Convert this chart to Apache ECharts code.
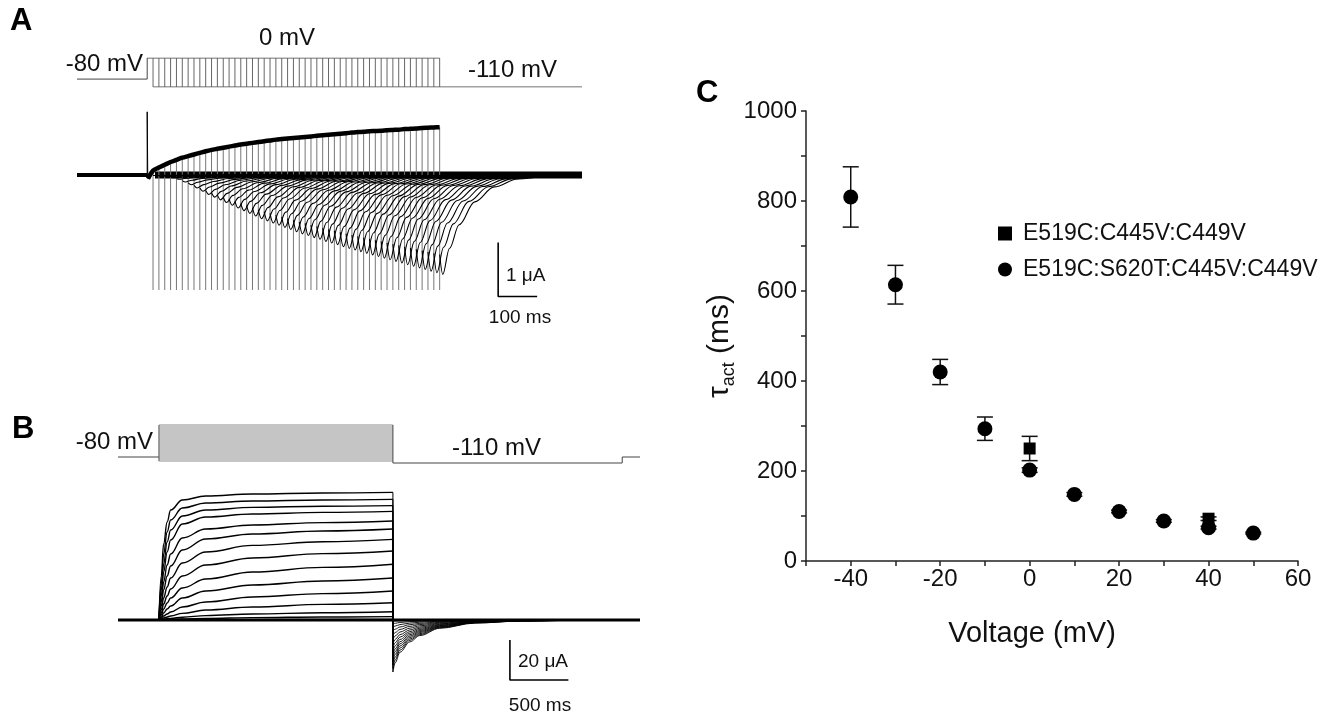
<!DOCTYPE html>
<html><head><meta charset="utf-8">
<script src="https://cdn.jsdelivr.net/npm/echarts@6/dist/echarts.min.js"></script>
<style>html,body{margin:0;padding:0;background:#fff}#c{width:1337px;height:716px}</style>
</head><body><div id="c"></div>
<script>
// ================= Panel C: tau_act vs voltage =================
const voltagesS620T = [-40,-30,-20,-10,0,10,20,30,40,50];
const tauS620T      = [809,614,420,294,202,148,110,89,74,62];
const semS620T      = [67,43,28,26,5,4,3,3,3,2];
const voltagesWT    = [0,40];
const tauWT         = [250,94];
const semWT         = [27,4];
const xTickLabels   = [-40,-20,0,20,40,60];
const yTickLabels   = [0,200,400,600,800,1000];
const nameWT    = 'E519C:C445V:C449V';
const nameS620T = 'E519C:S620T:C445V:C449V';

// ================= Panel A: envelope protocol (0 mV, then -110 mV tails) =================
const aPulseEnds = [15,30,45,60,75,90,105,120,135,150,165,180,195,210,225,240,255,270,285,300,
  315,330,345,360,375,390,405,420,435,450,465,480,495,510,525,540,555,570,585,600,
  615,630,645,660,675,690,705,720,735,750];                       // ms
const aActAtEnd = [0.08,0.14,0.19,0.24,0.28,0.32,0.35,0.38,0.41,0.44,
  0.465,0.485,0.505,0.525,0.545,0.565,0.58,0.595,0.61,0.625,
  0.64,0.655,0.665,0.675,0.685,0.695,0.705,0.715,0.725,0.735,
  0.745,0.755,0.765,0.775,0.785,0.795,0.80,0.81,0.815,0.82,
  0.83,0.835,0.84,0.85,0.855,0.86,0.87,0.875,0.88,0.885];         // uA at 0 mV
const aTailPeak = [-0.01,-0.02,-0.03,-0.05,-0.08,-0.13,-0.18,-0.24,-0.30,-0.36,
  -0.41,-0.46,-0.51,-0.56,-0.61,-0.66,-0.71,-0.76,-0.81,-0.85,
  -0.89,-0.93,-0.97,-1.01,-1.05,-1.09,-1.12,-1.16,-1.19,-1.23,
  -1.26,-1.29,-1.33,-1.36,-1.39,-1.42,-1.45,-1.48,-1.51,-1.54,
  -1.57,-1.60,-1.63,-1.66,-1.69,-1.72,-1.75,-1.78,-1.81,-1.84];   // uA at -110 mV
const aTailShape = [[0,0.8],[8,1],[25,0.74],[50,0.5],[90,0.27],[140,0.12],[200,0.04],[280,0]]; // [ms after step, fraction]
const aArtifactFloor = -2.13;
const aSpikePeak = 1.17;
const aHoldMV = -80, aStepMV = 0, aTailMV = -110;

// ================= Panel B: activation family =================
const bStepsMV = [-100,-90,-80,-70,-60,-50,-40,-30,-20,-10,0,10,20,30,40,50,60,70,80];
const bRiseTimes = [0,20,40,70,100,200,400,800,1400,2000];        // ms
const bRise = [
  [0,22,38,49,55,60,62,63,63.5,63.8],
  [0,18,33,44,50,56,58.5,59.5,60,60.3],
  [0,15,28,39,45,52,55,56.3,56.9,57.2],
  [0,12,24,34,40,48,51.5,53,53.8,54.3],
  [0,9,19,27.5,33,41,45.5,47.5,48.7,49.5],
  [0,7,15,22,27,35,40.5,43,44.5,45.5],
  [0,5,11,16.5,21,28.5,34,37.3,39.1,40.3],
  [0,3.5,8,12,15.5,22,27.5,31,33.2,34.5],
  [0,2.5,5.5,8.5,11,16,20.5,24,26.3,27.9],
  [0,1.5,3.5,5.5,7,11,14.5,17.5,19.5,21],
  [0,1,2,3,4,6.5,9,11.5,13.2,14.5],
  [0,0.5,1,1.5,2,3.3,5,6.5,7.8,8.6],
  [0,0.2,0.4,0.6,0.8,1.4,2.2,3,3.6,4.1],
  [0,0,0.1,0.2,0.3,0.5,0.8,1.2,1.5,1.7],
  [0,0,0,0.03,0.05,0.1,0.15,0.2,0.25,0.3]
];                                                                  // uA
const bTailPeak = [-26,-24.3,-22.6,-20.9,-19.2,-17.5,-15.7,-13.8,-11.8,-9.7,-7.6,-5.6,-3.7,-2,-0.6];
const bTailShape = [[0,1],[20,0.82],[60,0.62],[145,0.42],[230,0.3],[400,0.16],[700,0.06],[1100,0.02],[1600,0]];

const FONT = '"Liberation Sans", Arial, sans-serif';
const series = [];
function line(ai, data, color, width, extra) {
  series.push(Object.assign({
    type: 'line', xAxisIndex: ai, yAxisIndex: ai, data: data, symbol: 'none',
    silent: true, animation: false, lineStyle: { color: color, width: width }, z: 2
  }, extra || {}));
}

// ---- A protocol
line(0, [[-180,aHoldMV],[0,aHoldMV],[0,aStepMV],[750,aStepMV]], '#444', 1);
line(0, [[15,aTailMV],[1115,aTailMV]], '#444', 1);
aPulseEnds.forEach(t => line(0, [[t,aStepMV],[t,aTailMV]], '#666', 1));
// ---- A currents
line(1, [[-180,0],[0,0]], '#000', 4);
line(1, [[20,0],[1115,0]], '#000', 7);
aPulseEnds.forEach((t,i) => line(1, [[t,aActAtEnd[i]],[t,aArtifactFloor]], '#777', 1));
aPulseEnds.forEach((t,i) => line(1, aTailShape.map(p => [t + p[0], aTailPeak[i] * p[1]]), '#000', 1.1,
  { smooth: 0.35, smoothMonotone: 'x' }));
line(1, [[0,0],[0,aSpikePeak],[1.5,-0.07]], '#000', 1);
line(1, [[2,-0.07]].concat(aPulseEnds.map((t,i) => [t, aActAtEnd[i]])), '#000', 4.5, { smooth: 0.3 });
line(1, [[900,-1.25],[900,-2.25],[1000,-2.25]], '#000', 1.6);   // scale bar 1 uA / 100 ms

// ---- B protocol
line(2, [[-350,-80],[0,-80]], '#444', 1);
bStepsMV.forEach(v => line(2, [[0,v],[2000,v]], '#8c8c8c', 1));
line(2, [[0,-100],[0,80]], '#555', 1);
line(2, [[2000,80],[2000,-110],[3960,-110],[3960,-80],[4112,-80]], '#444', 1);
// ---- B currents
line(3, [[-350,0],[4112,0]], '#000', 3);
bRise.forEach((row,k) => {
  line(3, bRiseTimes.map((t,j) => [t, row[j]]), '#000', 1.4, { smooth: 0.4, smoothMonotone: 'x' });
  line(3, [[2000,row[row.length-1]],[2000,bTailPeak[k]]], '#000', 1);
  line(3, bTailShape.map(p => [2000 + p[0], bTailPeak[k] * p[1]]), '#000', 0.9, { smooth: 0.35, smoothMonotone: 'x' });
});
line(3, [[3000,-10],[3000,-30],[3500,-30]], '#000', 1.6);      // scale bar 20 uA / 500 ms

// ---- C
function errRender(params, api) {
  const x = api.value(0), lo = api.value(1), hi = api.value(2);
  const a = api.coord([x, hi]), b = api.coord([x, lo]);
  const w = 8, st = { stroke: '#111', lineWidth: 1.5 };
  return { type: 'group', children: [
    { type: 'line', shape: { x1: a[0], y1: a[1], x2: b[0], y2: b[1] }, style: st },
    { type: 'line', shape: { x1: a[0]-w, y1: a[1], x2: a[0]+w, y2: a[1] }, style: st },
    { type: 'line', shape: { x1: b[0]-w, y1: b[1], x2: b[0]+w, y2: b[1] }, style: st }
  ]};
}
series.push({ type: 'custom', name: 'errS620T', xAxisIndex: 4, yAxisIndex: 4, renderItem: errRender, z: 3,
  data: voltagesS620T.map((v,i) => [v, tauS620T[i]-semS620T[i], tauS620T[i]+semS620T[i]]), encode: { x: 0, y: [1,2] }, silent: true });
series.push({ type: 'custom', name: 'errWT', xAxisIndex: 4, yAxisIndex: 4, renderItem: errRender, z: 3,
  data: voltagesWT.map((v,i) => [v, tauWT[i]-semWT[i], tauWT[i]+semWT[i]]), encode: { x: 0, y: [1,2] }, silent: true });
series.push({ type: 'scatter', name: nameWT, xAxisIndex: 4, yAxisIndex: 4, symbol: 'rect', symbolSize: 12,
  itemStyle: { color: '#000', opacity: 1 }, data: voltagesWT.map((v,i) => [v, tauWT[i]]), z: 5, silent: true });
series.push({ type: 'scatter', name: nameS620T, xAxisIndex: 4, yAxisIndex: 4, symbol: 'circle', symbolSize: 15,
  itemStyle: { color: '#000', opacity: 1 }, data: voltagesS620T.map((v,i) => [v, tauS620T[i]]), z: 6, silent: true });

const hid = { type: 'value', show: false };
const axisStyle = { lineStyle: { color: '#222', width: 1.5 } };
const option = {
  animation: false,
  backgroundColor: '#fff',
  textStyle: { fontFamily: FONT },
  grid: [
    { left: 77,  top: 58,  width: 505, height: 29 },
    { left: 77,  top: 100, width: 505, height: 200 },
    { left: 118, top: 424, width: 522, height: 40 },
    { left: 118, top: 480, width: 522, height: 220 },
    { left: 806, top: 111, width: 492, height: 450 }
  ],
  xAxis: [
    Object.assign({ gridIndex: 0, min: -180, max: 1115 }, hid),
    Object.assign({ gridIndex: 1, min: -180, max: 1115 }, hid),
    Object.assign({ gridIndex: 2, min: -350, max: 4112 }, hid),
    Object.assign({ gridIndex: 3, min: -350, max: 4112 }, hid),
    { gridIndex: 4, type: 'value', min: -50, max: 60, interval: 10,
      name: 'Voltage (mV)', nameLocation: 'middle', nameGap: 58,
      nameTextStyle: { fontSize: 29, color: '#111', fontFamily: FONT, padding: [0, 40, 0, 0] },
      axisLine: Object.assign({ onZero: false }, axisStyle),
      axisTick: Object.assign({ length: 5, inside: false }, axisStyle),
      axisLabel: { fontSize: 24, color: '#111', margin: 6, fontFamily: FONT,
        formatter: v => xTickLabels.indexOf(v) >= 0 ? String(v) : '' },
      splitLine: { show: false } }
  ],
  yAxis: [
    Object.assign({ gridIndex: 0, min: -110, max: 0 }, hid),
    Object.assign({ gridIndex: 1, min: -2.315, max: 1.389 }, hid),
    Object.assign({ gridIndex: 2, min: -115, max: 85 }, hid),
    Object.assign({ gridIndex: 3, min: -40, max: 70 }, hid),
    { gridIndex: 4, type: 'value', min: 0, max: 1000, interval: 100,
      name: '{t|τ}{s|act}{t| (ms)}', nameLocation: 'middle', nameRotate: 90, nameGap: 68,
      nameTextStyle: { color: '#111', fontFamily: FONT, padding: [0, 20, 0, 0],
        rich: { t: { fontSize: 30, lineHeight: 36, color: '#111', fontFamily: FONT },
                s: { fontSize: 18, lineHeight: 36, verticalAlign: 'bottom', color: '#111', fontFamily: FONT } } },
      axisLine: Object.assign({ onZero: false }, axisStyle),
      axisTick: Object.assign({ length: 5, inside: false }, axisStyle),
      axisLabel: { fontSize: 24, color: '#111', margin: 9, fontFamily: FONT,
        formatter: v => yTickLabels.indexOf(v) >= 0 ? String(v) : '' },
      splitLine: { show: false } }
  ],
  legend: {
    data: [{ name: nameWT, icon: 'rect' }, { name: nameS620T, icon: 'circle' }],
    orient: 'vertical', left: 998, top: 222, padding: 0, itemGap: 13,
    itemWidth: 14, itemHeight: 14, selectedMode: false,
    textStyle: { fontSize: 23, color: '#111', fontFamily: FONT, padding: [0,0,0,6] }
  },
  graphic: [
    { type: 'text', left: 10, top: 6, style: { text: 'A', fill: '#000', font: 'bold 31px ' + FONT } },
    { type: 'text', left: 12, top: 414, style: { text: 'B', fill: '#000', font: 'bold 31px ' + FONT } },
    { type: 'text', left: 696, top: 78, style: { text: 'C', fill: '#000', font: 'bold 31px ' + FONT } },
    { type: 'text', x: 143, y: 64, style: { text: '-80 mV', font: '24px ' + FONT, fill: '#111', align: 'right', verticalAlign: 'middle' } },
    { type: 'text', x: 287, y: 38, style: { text: '0 mV', font: '24px ' + FONT, fill: '#111', align: 'center', verticalAlign: 'middle' } },
    { type: 'text', x: 468, y: 70, style: { text: '-110 mV', font: '24px ' + FONT, fill: '#111', align: 'left', verticalAlign: 'middle' } },
    { type: 'text', x: 153, y: 442, style: { text: '-80 mV', font: '24px ' + FONT, fill: '#111', align: 'right', verticalAlign: 'middle' } },
    { type: 'text', x: 452, y: 448, style: { text: '-110 mV', font: '24px ' + FONT, fill: '#111', align: 'left', verticalAlign: 'middle' } },
    { type: 'text', x: 506, y: 276, style: { text: '1 μA', font: '19px ' + FONT, fill: '#111', align: 'left', verticalAlign: 'middle' } },
    { type: 'text', x: 520, y: 318, style: { text: '100 ms', font: '19px ' + FONT, fill: '#111', align: 'center', verticalAlign: 'middle' } },
    { type: 'text', x: 518, y: 662, style: { text: '20 μA', font: '19px ' + FONT, fill: '#111', align: 'left', verticalAlign: 'middle' } },
    { type: 'text', x: 540, y: 706, style: { text: '500 ms', font: '19px ' + FONT, fill: '#111', align: 'center', verticalAlign: 'middle' } }
  ],
  series: series
};
const chart = echarts.init(document.getElementById('c'), null, { renderer: 'canvas' });
chart.setOption(option);
</script></body></html>
